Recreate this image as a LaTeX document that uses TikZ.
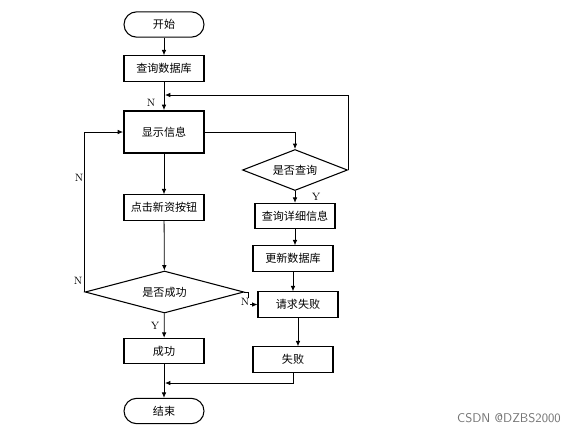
\documentclass[tikz,border=0pt]{standalone}
\usepackage{fontspec}
\newfontfamily\cjk{Noto Sans CJK SC}
\usepackage{tikz}
\usetikzlibrary{arrows.meta,positioning,shapes.geometric,calc}

\begin{document}
\begin{tikzpicture}[x=0.75pt,y=-0.75pt,>={Latex[length=4pt,width=3.4pt]},
  line width=0.6pt,
  box/.style={draw, line width=0.8pt, minimum width=60pt, minimum height=19pt, inner sep=1pt, font=\cjk\fontsize{8.3}{10}\selectfont},
  term/.style={box, rounded corners=9.5pt},
  dec/.style={draw, line width=0.8pt, diamond, aspect=2.5, inner sep=0pt, font=\cjk\fontsize{8.3}{10}\selectfont},
  lbl/.style={font=\fontsize{8}{10}\selectfont, inner sep=1pt}]
\useasboundingbox (0,0) rectangle (584,433);
% left column
\node[term] (start) at (164,24.5) {开始};
\node[box] (query) at (164,68.5) {查询数据库};
\node[box, line width=1.4pt, minimum height=31.5pt] (show) at (164,132) {显示信息};
\node[box] (click) at (164,207.5) {点击新资按钮};
\node[dec, minimum width=119pt, minimum height=31.5pt] (askok) at (164.5,292) {是否成功};
\node[box] (ok) at (164,351) {成功};
\node[term] (end) at (164,411) {结束};
% right column
\node[dec, minimum width=78.75pt, minimum height=30.75pt] (askq) at (295,170) {是否查询};
\node[box] (detail) at (295,216) {查询详细信息};
\node[box] (update) at (293,258.5) {更新数据库};
\node[box] (reqfail) at (298,304.5) {请求失败};
\node[box] (failbox) at (293,359.5) {失败};
\coordinate (back) at (165,95);
\coordinate (merge) at (165,383);
% connectors
\draw[->] (start) -- (query);
\draw[->] (query) -- (show);
\draw[->] (show) -- (click);
\draw[->] (click) -- (askok);
\draw[->] (askok) -- (ok);
\draw[->] (ok) -- (end);
\draw[->] (show.east) -| (askq.north);
\draw[->] (askq.east) |- (back);
\draw[->] (askq) -- (detail);
\draw[->] (detail.south) -- (detail.south |- update.north);
\draw[->] (update.south) -- (update.south |- reqfail.north);
\draw[->] (reqfail.south) -- (reqfail.south |- failbox.north);
\draw[->] (failbox.south) |- (merge);
\draw[->] (askok.west) |- (show.west);
\draw[->] (askok.east) -- ++(4,0) |- (reqfail.west);
% labels
\node[lbl] (nq) at (151,103) {N};
\node[lbl] (yq) at (316,197) {Y};
\node[lbl] (nl1) at (79,178) {N};
\node[lbl] (nl2) at (78,281) {N};
\node[lbl, fill=white, inner sep=0.5pt] (nr) at (245,302) {N};
\node[lbl] (yo) at (155,326) {Y};
\node[font=\fontsize{9.5}{11}\selectfont\sffamily, text=black!55] (mark) at (509,418) {CSDN @DZBS2000};
\end{tikzpicture}
\end{document}
